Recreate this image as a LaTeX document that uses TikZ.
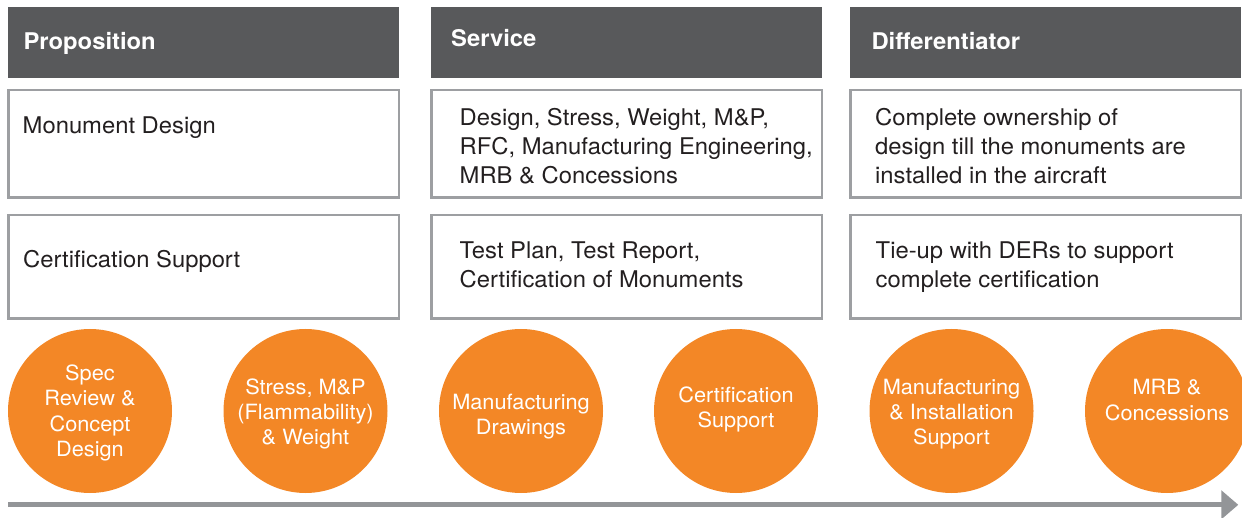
\documentclass[tikz,border=0pt]{standalone}
\usepackage{fontspec}
\setmainfont{TeX Gyre Heros}[FakeStretch=1.035]
\usetikzlibrary{positioning,arrows.meta}
\definecolor{headgray}{HTML}{58595B}
\definecolor{linegray}{HTML}{9D9FA2}
\definecolor{arrowgray}{HTML}{939598}
\definecolor{discorange}{HTML}{F38726}
\definecolor{inkblack}{HTML}{231F20}

\begin{document}
\begin{tikzpicture}[x=1pt,y=1pt,
        head/.style={fill=headgray,minimum width=391pt,minimum height=71pt,inner sep=0pt,outer sep=0pt,anchor=north west},
        headtext/.style={text=white,font=\fontsize{23}{28}\selectfont\bfseries,anchor=base west,inner sep=0pt},
        cell/.style={draw=linegray,line width=2.5pt,minimum width=390.5pt,inner sep=0pt,anchor=north west},
        celltext/.style={font=\fontsize{23}{28.7}\selectfont,text=inkblack,align=left,anchor=north west,inner sep=0pt},
        disc/.style={circle,fill=discorange,minimum size=164pt,inner sep=0pt},
        disctext/.style={text=white,font=\fontsize{21}{25.3}\selectfont,align=center,inner sep=0pt}]
\useasboundingbox (0,0) rectangle (1242,-518);

% header bars
\foreach[count=\xi] \x in {8,431,850}{
\node[head] (H-\xi) at (\x,-7) {};
}
\node[headtext] (H-1-t) at (23.3,-49.3) {Proposition};
\node[headtext] (H-2-t) at (451,-46.7) {Service};
\node[headtext] (H-3-t) at (871.3,-49.3) {Differentiator};

% the two rows of boxes
\foreach[count=\xi] \x in {7,430,849}{
\node[cell,minimum height=107.5pt] (C-1-\xi) at (\x,-89) {};
\node[cell,minimum height=103.5pt] (C-2-\xi) at (\x,-214) {};
}
\node[celltext] (C-1-1-t) at (22.5,-117) {Monument Design};
\node[celltext] (C-2-1-t) at (23,-250) {Certification Support};
\node[celltext] (C-1-2-t) at (459.5,-108.3) {Design, Stress, Weight, M\&P,\\RFC, Manufacturing Engineering,\\MRB \& Concessions};
\node[celltext] (C-2-2-t) at (459.5,-242) {Test Plan, Test Report,\\Certification of Monuments};
\node[celltext] (C-1-3-t) at (875,-108.3) {Complete ownership of\\design till the monuments are\\installed in the aircraft};
\node[celltext] (C-2-3-t) at (875.5,-242) {Tie-up with DERs to support\\complete certification};

% steps
\foreach[count=\xi] \x/\s/\t in {90/-2/{Spec\\Review \&\\Concept\\Design},
        305.5/-3/{Stress, M\&P\\(Flammability)\\\& Weight},
        521/-5.5/{Manufacturing\\Drawings},
        736/1.5/{Certification\\Support},
        951.5/-3/{Manufacturing\\\& Installation\\Support},
        1167/11/{MRB \&\\Concessions}}{
\node[disc] (D-\xi) at (\x,-411) {};
\node[disctext] (D-\xi-t) at ([yshift=\s pt]D-\xi.center) {\t};
}

% time line
\coordinate (T-start) at (8,-504.8);
\coordinate (T-end) at (1238.3,-504.8);
\draw[arrowgray,line width=5pt,-{Triangle[length=17pt,width=28pt]}] (T-start) -- (T-end);
\end{tikzpicture}
\end{document}
